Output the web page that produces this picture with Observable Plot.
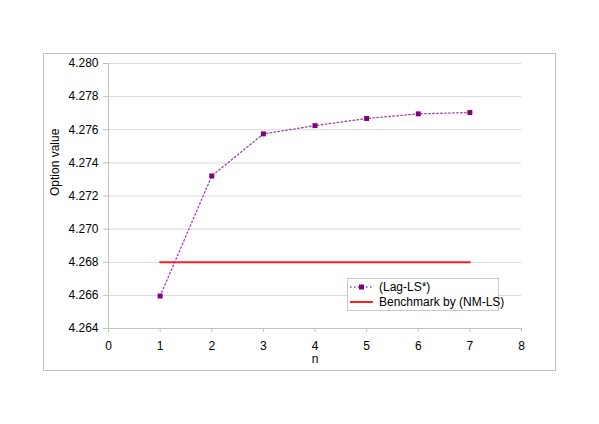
<!DOCTYPE html>
<html>
<head>
<meta charset="utf-8">
<script src="https://cdn.jsdelivr.net/npm/d3@7"></script>
<script src="https://cdn.jsdelivr.net/npm/@observablehq/plot@0.6"></script>
<style>
  body { margin: 0; background: white; font-family: "Liberation Sans", Arial, sans-serif; }
  #wrap { position: relative; width: 599px; height: 424px; }
  #border { position: absolute; left: 43px; top: 53px; width: 511px; height: 316px; border: 1px solid #c0c0c0; pointer-events: none; }
  #legend { position: absolute; left: 347px; top: 278px; width: 150px; height: 31px; border: 1px solid #c8c8c8; background: white; font-size: 12px; color: black; }
  #legend .row { position: absolute; left: 0; height: 16px; display: flex; align-items: center; }
  #legend svg { display: block; }
  #legend span { margin-left: 3px; white-space: nowrap; }
</style>
</head>
<body>
<div id="wrap">
  <div id="chart"></div>
  <div id="border"></div>
  <div id="legend"></div>
</div>
<script>
const n = [1, 2, 3, 4, 5, 6, 7];
const lagLS = [4.26596, 4.27321, 4.27575, 4.27625, 4.27668, 4.27696, 4.27704];
const benchN = [1, 7];
const benchmark = [4.268, 4.268];
const xTicks = [0, 1, 2, 3, 4, 5, 6, 7, 8];
const yTicks = [4.264, 4.266, 4.268, 4.270, 4.272, 4.274, 4.276, 4.278, 4.280];
const seriesNames = ["(Lag-LS*)", "Benchmark by (NM-LS)"];
const colors = { lagLine: "#a23ea8", lagDot: "#800080", bench: "#ff2020" };

const lagData = n.map((v, i) => ({ n: v, value: lagLS[i] }));
const benchData = benchN.map((v, i) => ({ n: v, value: benchmark[i] }));

const chart = Plot.plot({
  width: 599,
  height: 424,
  marginLeft: 108,
  marginRight: 78,
  marginTop: 63,
  marginBottom: 96,
  style: { fontFamily: "Liberation Sans, Arial, sans-serif", fontSize: "12px", color: "black", background: "transparent" },
  x: { domain: [0, 8] },
  y: { domain: [4.264, 4.280] },
  marks: [
    Plot.gridY(yTicks, { stroke: "#d9d9d9", strokeOpacity: 1, strokeWidth: 1 }),
    Plot.ruleX([0], { stroke: "#c0c0c0", strokeWidth: 1 }),
    Plot.ruleY([4.264], { stroke: "#c0c0c0", strokeWidth: 1 }),
    Plot.axisY({ ticks: yTicks, tickFormat: d => d.toFixed(3), tickSize: 5, tickPadding: 5, stroke: "#c0c0c0", fill: "black", label: null, fontSize: 12 }),
    Plot.axisX({ ticks: xTicks, tickFormat: d => String(d), tickSize: 4, tickPadding: 9, stroke: "#c0c0c0", fill: "black", label: null, fontSize: 12 }),
    Plot.text(["n"], { frameAnchor: "bottom", lineAnchor: "middle", dy: 31, fontSize: 12, fill: "black" }),
    Plot.text(["Option value"], { frameAnchor: "left", rotate: -90, dx: -53, fontSize: 12, fill: "black" }),
    Plot.line(benchData, { x: "n", y: "value", stroke: colors.bench, strokeWidth: 2 }),
    Plot.line(lagData, { x: "n", y: "value", stroke: colors.lagLine, strokeWidth: 1.3, strokeDasharray: "1.5,2.5" }),
    Plot.dot(lagData, { x: "n", y: "value", symbol: "square", r: 2.8, fill: colors.lagDot, stroke: "none" })
  ]
});
document.getElementById("chart").appendChild(chart);

// Legend
const legend = document.getElementById("legend");
function addRow(top, name, drawSwatch) {
  const row = document.createElement("div");
  row.className = "row";
  row.style.top = top + "px";
  const svg = d3.create("svg").attr("width", 28).attr("height", 16);
  drawSwatch(svg);
  row.appendChild(svg.node());
  const span = document.createElement("span");
  span.textContent = name;
  row.appendChild(span);
  legend.appendChild(row);
}
addRow(0, seriesNames[0], svg => {
  svg.append("line").attr("x1", 2).attr("x2", 25).attr("y1", 8).attr("y2", 8)
    .attr("stroke", colors.lagLine).attr("stroke-width", 1.3).attr("stroke-dasharray", "1.5,2.5");
  svg.append("rect").attr("x", 11).attr("y", 5.5).attr("width", 5).attr("height", 5).attr("fill", colors.lagDot);
});
addRow(15, seriesNames[1], svg => {
  svg.append("line").attr("x1", 2).attr("x2", 25).attr("y1", 8).attr("y2", 8)
    .attr("stroke", colors.bench).attr("stroke-width", 2);
});
</script>
</body>
</html>
